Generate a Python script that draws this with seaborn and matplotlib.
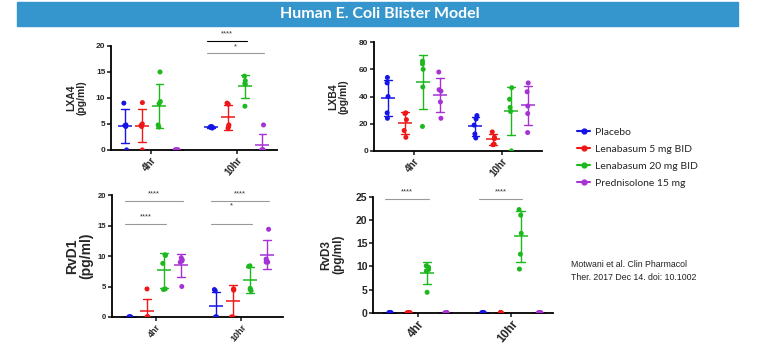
import numpy as np
import pandas as pd
import seaborn as sns
import matplotlib.pyplot as plt
from matplotlib.lines import Line2D
from matplotlib.patches import Rectangle

np.random.seed(7)

times = ["4hr", "10hr"]
groups = ["Placebo", "Lenabasum 5 mg BID", "Lenabasum 20 mg BID", "Prednisolone 15 mg"]
colors = ["#1414E6", "#EE1616", "#1DB81D", "#A632D6"]

# values per group (Placebo, 5 mg, 20 mg, Prednisolone)
lxa4_4hr = [[9.0, 4.8, 4.7, 4.5, 0.0], [9.1, 5.0, 4.7, 4.5, 0.0],
            [15.0, 9.3, 8.9, 4.8, 4.4], [0.0, 0.0, 0.0, 0.0, 0.0]]
lxa4_10hr = [[4.5, 4.4, 4.4, 4.3, 4.2], [9.0, 8.8, 4.8, 4.5, 4.2],
             [14.2, 13.3, 12.8, 12.6, 8.4], [4.8, 0.0, 0.0, 0.0, 0.0]]
lxb4_4hr = [[54, 50, 40, 28, 24], [28, 27.5, 23, 15, 10],
            [66, 64, 60, 47, 18], [58, 45, 44, 36, 24]]
lxb4_10hr = [[26, 23.5, 19, 12.5, 9.5], [14, 10, 9, 5, 4.5],
             [46.5, 38, 32, 29, 0], [50, 43.5, 33, 27.5, 13.5]]
rvd1_4hr = [[0.0, 0.0, 0.0, 0.0, 0.0], [4.6, 0.0, 0.0, 0.0, 0.0],
            [10.2, 10.1, 8.8, 4.6, 4.5], [9.7, 9.4, 9.2, 9.0, 5.0]]
rvd1_10hr = [[4.5, 4.3, 0.0, 0.0, 0.0], [4.6, 4.5, 4.4, 0.0, 0.0],
             [8.4, 8.3, 4.7, 4.5, 4.3], [14.4, 9.5, 9.3, 9.0, 9.0]]
rvd3_4hr = [[0.0, 0.0, 0.0, 0.0, 0.0], [0.0, 0.0, 0.0, 0.0, 0.0],
            [10.1, 9.8, 9.3, 9.0, 4.4], [0.0, 0.0, 0.0, 0.0, 0.0]]
rvd3_10hr = [[0.0, 0.0, 0.0, 0.0, 0.0], [0.0, 0.0, 0.0, 0.0, 0.0],
             [22.2, 21.0, 17.1, 12.6, 9.4], [0.0, 0.0, 0.0, 0.0, 0.0]]

# significance bars: (time, compared group index, line y, text y, stars, colour)
lxa4_sig = [("10hr", 2, 21.0, 21.6, "****", "black"), ("10hr", 3, 18.6, 19.2, "*", "#999999")]
rvd1_sig = [("4hr", 3, 19.0, 19.6, "****", "#999999"), ("4hr", 2, 15.2, 15.8, "****", "#999999"),
            ("10hr", 3, 19.0, 19.6, "****", "#999999"), ("10hr", 2, 15.2, 17.6, "*", "#999999")]
rvd3_sig = [("4hr", 2, 24.5, 25.2, "****", "#999999"), ("10hr", 2, 24.5, 25.2, "****", "#999999")]


def to_frame(d4, d10):
    rows = []
    for t, d in zip(times, [d4, d10]):
        for g, vals in zip(groups, d):
            for v in vals:
                rows.append({"time": t, "group": g, "value": v})
    return pd.DataFrame(rows)


sns.set_style("ticks")
plt.rcParams["font.family"] = ["Liberation Sans", "DejaVu Sans"]

fig = plt.figure(figsize=(7.6, 3.51), dpi=100)


def panel(rect, label, d4, d10, ymax, ystep, xlim, fs_tick, fs_x, fs_lab, lab_x, sig=None):
    ax = fig.add_axes(rect)
    df = to_frame(d4, d10)
    sns.stripplot(data=df, x="time", y="value", hue="group", order=times,
                  hue_order=groups, palette=colors, dodge=True, jitter=0.07,
                  size=3.6, linewidth=0, legend=False, ax=ax, zorder=3)
    sns.pointplot(data=df, x="time", y="value", hue="group", order=times,
                  hue_order=groups, palette=colors, dodge=0.6, errorbar="sd",
                  markers="_", markersize=10, markeredgewidth=1.1,
                  linestyle="none", capsize=0.09, err_kws={"linewidth": 1.0},
                  legend=False, ax=ax)
    ax.set_xlim(*xlim)
    ax.set_ylim(0, ymax)
    ax.set_yticks(np.arange(0, ymax + 0.1, ystep))
    ax.set_xlabel("")
    ax.set_ylabel(label, fontsize=fs_lab, fontweight="bold", linespacing=1.0)
    ax.yaxis.set_label_coords(lab_x, 0.5)
    sns.despine(ax=ax)
    for s in ["left", "bottom"]:
        ax.spines[s].set_linewidth(1.3)
        ax.spines[s].set_color("black")
    ax.tick_params(axis="y", labelsize=fs_tick, width=1.2, length=3, pad=1)
    ax.tick_params(axis="x", labelsize=fs_x, width=1.2, length=3, pad=1)
    for t in ax.get_yticklabels():
        t.set_fontweight("bold")
    for t in ax.get_xticklabels():
        t.set_fontweight("bold")
        t.set_rotation(50)
        t.set_ha("right")
        t.set_rotation_mode("anchor")
    offs = [-0.3, -0.1, 0.1, 0.3]
    for (t, j, ly, ty, stars, c) in (sig or []):
        base = times.index(t)
        x0 = base + offs[0] - 0.05
        x1 = base + offs[j] + 0.02
        ax.plot([x0, x1], [ly, ly], color=c, lw=0.8, clip_on=False)
        ax.text((x0 + x1) / 2, ty, stars, ha="center", va="bottom",
                fontsize=5.5, color="#333333", clip_on=False)
    return ax


panel([0.146, 0.573, 0.218, 0.296], "LXA4\n(pg/ml)", lxa4_4hr, lxa4_10hr, 20, 5,
      (-0.465, 1.465), 6, 7, 7.5, -0.15, lxa4_sig)
panel([0.492, 0.570, 0.221, 0.310], "LXB4\n(pg/ml)", lxb4_4hr, lxb4_10hr, 80, 20,
      (-0.455, 1.455), 6, 7, 7.5, -0.15)
panel([0.147, 0.097, 0.225, 0.347], "RvD1\n(pg/ml)", rvd1_4hr, rvd1_10hr, 20, 5,
      (-0.51, 1.48), 5.5, 6.5, 10, -0.11, rvd1_sig)
panel([0.491, 0.109, 0.237, 0.331], "RvD3\n(pg/ml)", rvd3_4hr, rvd3_10hr, 25, 5,
      (-0.48, 1.45), 7.5, 8.5, 8.5, -0.16, rvd3_sig)

# title bar
fig.patches.append(Rectangle((17 / 760, 1 - 26 / 351), 721 / 760, 24 / 351,
                             transform=fig.transFigure, color="#3596CE", zorder=0))
fig.text(0.5, 1 - 14 / 351, "Human E. Coli Blister Model", ha="center", va="center",
         color="white", fontsize=11.5, fontweight="bold", family=["Lato", "DejaVu Sans"])

handles = [Line2D([0], [0], color=c, lw=1.5, marker="o", markersize=3.5) for c in colors]
fig.legend(handles, groups, loc="upper left", bbox_to_anchor=(568 / 760, 1 - 118 / 351),
           frameon=False, prop={"family": ["Lato", "DejaVu Sans"], "size": 7.5},
           handlelength=1.2, handletextpad=0.5, labelspacing=0.75)

fig.text(571 / 760, 1 - 271 / 351, "Motwani et al. Clin Pharmacol\nTher. 2017 Dec 14. doi: 10.1002",
         ha="left", va="center", fontsize=6.3, color="#222222", linespacing=1.6)

fig.savefig("out.png", dpi=100)
